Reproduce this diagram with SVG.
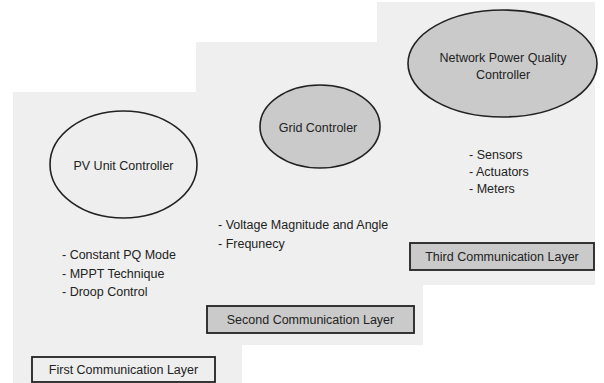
<svg xmlns="http://www.w3.org/2000/svg" width="604" height="383" viewBox="0 0 604 383">
<style>
.panel{fill:#efefef;stroke:none}
.node{stroke:#222;stroke-width:1.6}
.light{fill:#eeeeee}
.grey{fill:#cacaca}
.box{stroke:#222;stroke-width:1.8}
text{font-family:"Liberation Sans",Arial,sans-serif;font-size:12.5px;fill:#222}
.c{text-anchor:middle}
</style>
<rect width="604" height="383" fill="#ffffff"/>
<g id="panels">
<rect class="panel" x="377" y="2" width="218" height="283"/>
<rect class="panel" x="196" y="42" width="227" height="303"/>
<rect class="panel" x="13" y="92" width="229" height="291"/>
</g>
<g id="connectors"></g>
<g id="pv-unit-controller">
<ellipse class="node light" cx="123.5" cy="164.5" rx="73.5" ry="53.5"/>
<text class="c" x="123.5" y="170">PV Unit Controller</text>
</g>
<g id="grid-controler">
<ellipse class="node grey" cx="320" cy="126.5" rx="60" ry="41.5"/>
<text class="c" x="318" y="132">Grid Controler</text>
</g>
<g id="network-power-quality-controller">
<ellipse class="node grey" cx="502.5" cy="63.5" rx="94.5" ry="53.5"/>
<text class="c" x="503" y="62">Network Power Quality</text>
<text class="c" x="503" y="79">Controller</text>
</g>
<g id="pv-list">
<text x="62" y="259">- Constant PQ Mode</text>
<text x="62" y="278">- MPPT Technique</text>
<text x="62" y="296">- Droop Control</text>
</g>
<g id="grid-list">
<text x="218" y="229">- Voltage Magnitude and Angle</text>
<text x="218" y="248">- Frequnecy</text>
</g>
<g id="npq-list">
<text x="469" y="159">- Sensors</text>
<text x="469" y="176">- Actuators</text>
<text x="469" y="193">- Meters</text>
</g>
<g id="first-layer">
<rect class="box light" x="32" y="357" width="183" height="25"/>
<text class="c" x="123.5" y="374">First Communication Layer</text>
</g>
<g id="second-layer">
<rect class="box grey" x="207" y="306" width="207" height="27"/>
<text class="c" x="310.5" y="324">Second Communication Layer</text>
</g>
<g id="third-layer">
<rect class="box grey" x="410" y="243" width="184" height="27"/>
<text class="c" x="502" y="261">Third Communication Layer</text>
</g>
</svg>
